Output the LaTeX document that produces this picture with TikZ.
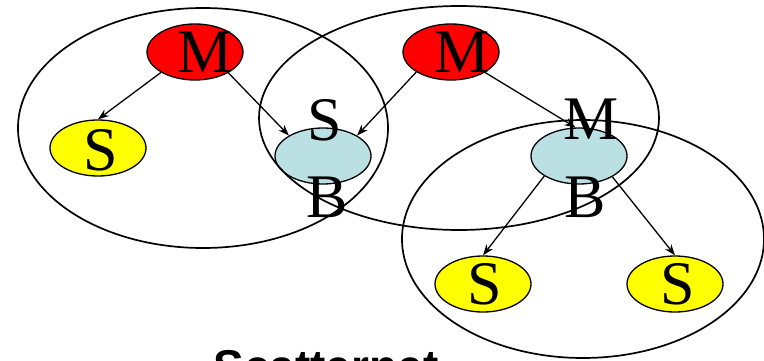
\documentclass[tikz,border=0pt]{standalone}
\usepackage{fontspec}
\setmainfont{Liberation Serif}
\newfontfamily\captionfont{Liberation Sans}
\usepackage{tikz}
\usetikzlibrary{arrows.meta,shapes.geometric}
\definecolor{mastercolor}{rgb}{1,0,0}
\definecolor{slavecolor}{rgb}{1,1,0}
\definecolor{bridgecolor}{RGB}{187,224,227}

\begin{document}
\begin{tikzpicture}[x=1pt,y=-1pt,>={Stealth[length=11pt,width=8pt]},line width=1.3pt,
                    every label/.style={inner sep=0pt,font=\fontsize{62}{62}\selectfont}]
  \tikzstyle{unit}=[ellipse,draw=black,minimum width=96pt,minimum height=56pt,inner sep=0pt]
  \tikzstyle{master}=[unit,fill=mastercolor]
  \tikzstyle{slave}=[unit,fill=slavecolor]
  \tikzstyle{bridge}=[unit,fill=bridgecolor]
  \tikzstyle{piconet}=[line width=1.7pt]

  \useasboundingbox (0,0) rectangle (764,361);

  % masters, slaves and the two bridges
  \node[master, label={[xshift=10pt]center:M}]        (M1) at (195,52)  {};
  \node[master, label={[xshift=11pt]center:M}]        (M2) at (451,52)  {};
  \node[slave,  label={[xshift=3pt,yshift=-2pt]center:S}] (S1) at (98,148) {};
  \node[slave,  label={[xshift=2pt]center:S}]         (S2) at (483,284) {};
  \node[slave,  label={[xshift=3pt]center:S}]         (S3) at (675,284) {};
  \node[bridge, label={[xshift=2pt,yshift=36pt]center:S},
                label={[xshift=4pt,yshift=-41pt]center:B}]  (B1) at (323,156) {};
  \node[bridge, label={[xshift=12pt,yshift=37pt]center:M},
                label={[xshift=6pt,yshift=-41pt]center:B}]  (B2) at (579,156) {};

  % piconet boundaries
  \draw[piconet] (203,128) ellipse [x radius=185pt, y radius=120pt];
  \draw[piconet] (459,118) ellipse [x radius=200pt, y radius=112pt];
  \draw[piconet] (583,239) ellipse [x radius=181pt, y radius=119pt];

  \path[->] (M1.211) edge (S1.north)
            (M1.328) edge (B1.149)
            (M2.210) edge (B1.31)
            (M2.329) edge (B2.97)
            (B2.210) edge (S2.north)
            (B2.328) edge (S3.north);

  \node[anchor=north, inner sep=0pt,
        font=\captionfont\bfseries\fontsize{46}{46}\selectfont] (title) at (326,350) {Scatternet};
\end{tikzpicture}
\end{document}
